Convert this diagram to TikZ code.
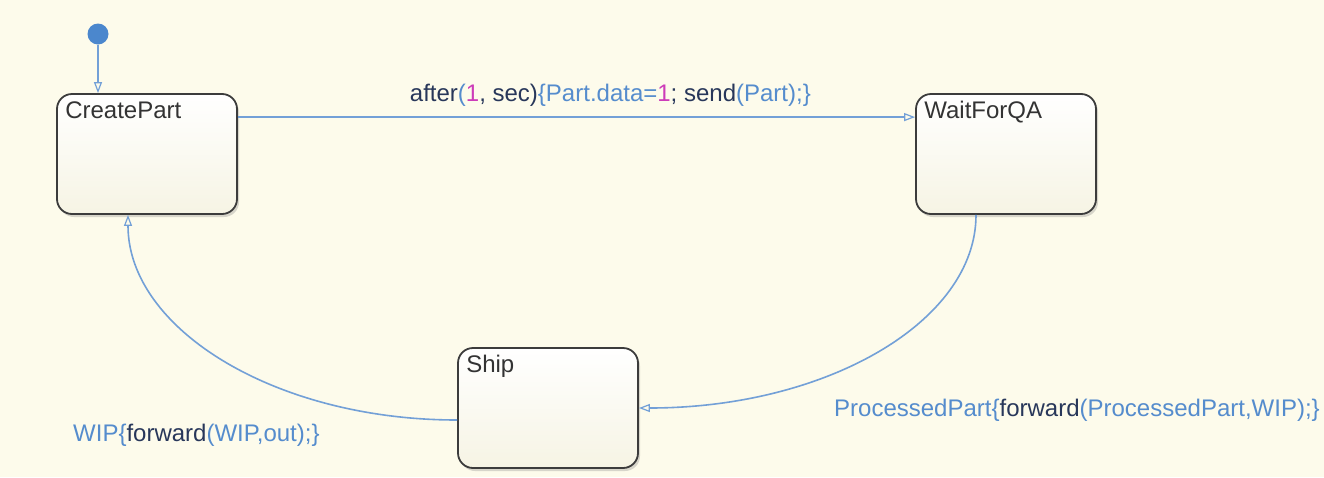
\documentclass[tikz,border=0pt]{standalone}
\usepackage{fontspec}
\setmainfont{Liberation Sans}
\usetikzlibrary{arrows.meta, positioning, shadows}
\definecolor{sfPaper}{RGB}{253,251,235}
\definecolor{sfLine}{RGB}{115,160,215}
\definecolor{sfInit}{RGB}{75,135,205}
\definecolor{sfIdent}{RGB}{85,140,205}
\definecolor{sfKey}{RGB}{40,55,90}
\definecolor{sfNum}{RGB}{205,60,185}
\definecolor{sfBorder}{RGB}{60,60,60}
\definecolor{sfBoxBottom}{RGB}{246,244,228}
\newcommand{\sfkw}[1]{\textcolor{sfKey}{#1}}
\newcommand{\sfnum}[1]{\textcolor{sfNum}{#1}}

\tikzset{
  stateBox/.style={rectangle, rounded corners=15pt, draw=sfBorder, line width=1.8pt,
    top color=white, bottom color=sfBoxBottom, minimum width=180pt, minimum height=120pt,
    drop shadow={shadow xshift=2pt, shadow yshift=-3pt, opacity=0.3}},
  titleText/.style={anchor=north west, inner sep=0pt, text=black!80,
    font=\fontsize{24}{28}\selectfont},
  initDot/.style={circle, fill=sfInit, minimum size=21pt, inner sep=0pt},
  trans/.style={draw=sfLine, line width=1.6pt,
    -{Triangle[open, length=11pt, width=8pt, line width=1.2pt]}},
  transLabel/.style={text=sfIdent, inner sep=0pt, font=\fontsize{24}{28}\selectfont}
}

\begin{document}
\begin{tikzpicture}[x=1pt, y=-1pt]
  \useasboundingbox (0,0) rectangle (1324,477);
  \fill[sfPaper] (0,0) rectangle (1324,477);

  % states
  \node[stateBox, label={[titleText, xshift=9pt, yshift=-8pt]north west:CreatePart}] (createPart) at (147,154) {};
  \node[stateBox, label={[titleText, xshift=9pt, yshift=-8pt]north west:WaitForQA}] (waitForQA) at (1006,154) {};
  \node[stateBox, label={[titleText, xshift=9pt, yshift=-8pt]north west:Ship}] (ship) at (548,408) {};

  % default transition
  \node[initDot] (init) at (98,34) {};
  \draw[trans] (init) -- (init |- createPart.north);

  % transitions
  \draw[trans] ([yshift=-24pt]createPart.north east) -- ([yshift=-24pt]waitForQA.north west)
    node[transLabel, pos=0.55, above=10pt] (lblAfter)
    {\sfkw{after}(\sfnum{1}\sfkw{, sec)}\{Part.data=\sfnum{1}\sfkw{; send}(Part);\}};
  \draw[trans] ([xshift=-30pt]waitForQA.south) .. controls +(0,107) and +(187,0) .. (ship.east);
  \draw[trans] ([yshift=-12pt]ship.west) .. controls +(-182,0) and +(0,114) .. ([xshift=-19pt]createPart.south);

  % labels
  \node[transLabel, anchor=west] (lblProcessed) at (834,410)
    {ProcessedPart\{\sfkw{forward}(ProcessedPart,WIP);\}};
  \node[transLabel, anchor=west] (lblWip) at (73,435)
    {WIP\{\sfkw{forward}(WIP,out);\}};
\end{tikzpicture}
\end{document}
